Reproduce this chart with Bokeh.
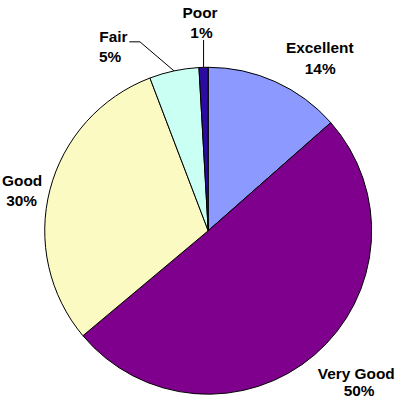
import numpy as np
from bokeh.plotting import figure
from bokeh.models import Range1d, ColumnDataSource
from bokeh.core.properties import value
from bokeh.embed import file_html
from bokeh.resources import INLINE

# ---- data ----
categories = ["Excellent", "Very Good", "Good", "Fair", "Poor"]
shares = [13.5, 50.4, 30.3, 4.9, 0.9]
pct_labels = ["14%", "50%", "30%", "5%", "1%"]
colors = ["#8C99FF", "#80008E", "#FAFAC2", "#CAFFF4", "#2C0CA0"]

# ---- layout (reference pixel coordinates, scaled into the figure) ----
W, H = 400, 398
REF_W, REF_H = 416, 414
S = W / REF_W


def px(X):
    return X * W / REF_W


def py(Y):
    return H - Y * H / REF_H


cx, cy, r = px(216), py(239.5), 170 * S
# name centre x, name baseline y, pct centre x, pct baseline y
label_layout = {
    "Excellent": (332, 49, 332.5, 71),
    "Very Good": (370, 388, 373, 406),
    "Good": (22.5, 187, 22, 208),
    "Fair": (117.5, 37, 114, 58),
    "Poor": (207.5, 13, 209, 33),
}

frac = np.array(shares) / sum(shares)
cum = np.concatenate([[0.0], np.cumsum(frac)])
start = np.pi / 2 - 2 * np.pi * cum[:-1]
end = np.pi / 2 - 2 * np.pi * cum[1:]
mid = (start + end) / 2

p = figure(width=W, height=H, output_backend="svg", toolbar_location=None,
           x_range=Range1d(0, W), y_range=Range1d(0, H),
           x_axis_type=None, y_axis_type=None, min_border=0,
           outline_line_color=None)
p.grid.visible = False
p.background_fill_color = "white"
p.border_fill_color = "white"

src = ColumnDataSource(dict(start=start, end=end, color=colors, cat=categories))
p.wedge(x=cx, y=cy, radius=r, start_angle="start", end_angle="end",
        direction="clock", fill_color="color", line_color="black",
        line_width=1, source=src)

# leader lines for the small slices
edge_x = cx + r * np.cos(mid)
edge_y = cy + r * np.sin(mid)
i_fair = categories.index("Fair")
i_poor = categories.index("Poor")
p.line([px(134), px(145), edge_x[i_fair]], [py(43), py(43), edge_y[i_fair]],
       line_color="black", line_width=1)
p.line([edge_x[i_poor], edge_x[i_poor]], [py(41), edge_y[i_poor]],
       line_color="black", line_width=1)

lab = ColumnDataSource(dict(
    nx=[px(label_layout[c][0]) for c in categories],
    ny=[py(label_layout[c][1]) for c in categories],
    vx=[px(label_layout[c][2]) for c in categories],
    vy=[py(label_layout[c][3]) for c in categories],
    name=categories, pct=pct_labels))
common = dict(text_font=value("Liberation Sans"), text_font_style="bold",
              text_font_size="15.4px", text_align="center",
              text_baseline="alphabetic", text_color="black", source=lab)
p.text(x="nx", y="ny", text="name", **common)
p.text(x="vx", y="vy", text="pct", **common)

open("out.html", "w").write(file_html(p, INLINE))
